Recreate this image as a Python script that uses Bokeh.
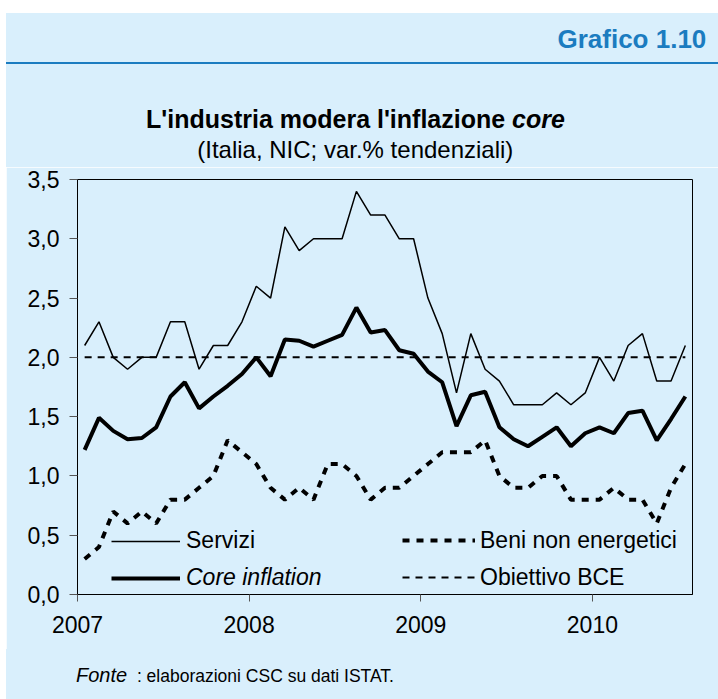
from bokeh.plotting import figure
from bokeh.layouts import column, row
from bokeh.models import (Range1d, FixedTicker, CustomJSTickFormatter,
                          Legend, LegendItem, Div, Spacer)
from bokeh.embed import file_html
from bokeh.resources import INLINE

# ---------------- data (monthly, Jan 2007 - Jul 2010) ----------------
servizi = [2.1, 2.3, 2.0, 1.9, 2.0, 2.0, 2.3, 2.3, 1.9, 2.1, 2.1, 2.3,
           2.6, 2.5, 3.1, 2.9, 3.0, 3.0, 3.0, 3.4, 3.2, 3.2, 3.0, 3.0,
           2.5, 2.2, 1.7, 2.2, 1.9, 1.8, 1.6, 1.6, 1.6, 1.7, 1.6, 1.7,
           2.0, 1.8, 2.1, 2.2, 1.8, 1.8, 2.1]
core_inflation = [1.22, 1.49, 1.38, 1.31, 1.32, 1.41, 1.67, 1.79, 1.57, 1.67, 1.76, 1.86,
                  2.00, 1.84, 2.15, 2.14, 2.09, 2.14, 2.19, 2.42, 2.21, 2.23, 2.06, 2.03,
                  1.88, 1.79, 1.42, 1.68, 1.71, 1.41, 1.31, 1.25, 1.33, 1.41, 1.25, 1.36,
                  1.41, 1.36, 1.53, 1.55, 1.30, 1.48, 1.67]
beni_non_energetici = [0.3, 0.4, 0.7, 0.6, 0.7, 0.6, 0.8, 0.8, 0.9, 1.0, 1.3, 1.2,
                       1.1, 0.9, 0.8, 0.9, 0.8, 1.1, 1.1, 1.0, 0.8, 0.9, 0.9, 1.0,
                       1.1, 1.2, 1.2, 1.2, 1.3, 1.0, 0.9, 0.9, 1.0, 1.0, 0.8, 0.8,
                       0.8, 0.9, 0.8, 0.8, 0.6, 0.9, 1.1]
obiettivo_bce_value = 2.0
obiettivo_bce = [obiettivo_bce_value] * len(servizi)

year_labels = ["2007", "2008", "2009", "2010"]
year_ticks = [0, 12, 24, 36]          # January boundaries (month index)
y_ticks = [0.0, 0.5, 1.0, 1.5, 2.0, 2.5, 3.0, 3.5]

n = len(servizi)
x = [i + 0.5 for i in range(n)]       # month centres

# ---------------- layout constants (page pixels, page origin = 0,0) ----------------
FONT = "Liberation Sans"
BG = "#d9effc"
BLUE = "#1b7cc0"
X0 = 6                            # panel starts at page x 6
W = 718 - X0
TOP_H = 167                       # header block: page y 0 .. 167
MAIN_TOP_B, FRAME_H, MAIN_BOT_B = 12, 415, 55
MAIN_H = MAIN_TOP_B + FRAME_H + MAIN_BOT_B
FOOT_H = 699 - TOP_H - MAIN_H
FL, FR = 71, 26
FRAME_BOTTOM_PAGE = TOP_H + MAIN_TOP_B + FRAME_H


def sx(page_x):
    return page_x - X0 - FL


def sy(page_y):
    return FRAME_BOTTOM_PAGE - page_y


def top_for(baseline_page, size, block_top_page):
    # Liberation Sans with line-height == font-size: baseline ~0.8465 em below top
    return baseline_page - 0.8465 * size - block_top_page


# ---------------- header (HTML text) ----------------
header_html = f"""
<div style="position:relative;width:{W}px;height:{TOP_H}px;font-family:'{FONT}';color:black;">
  <div style="position:absolute;left:0;top:0;width:{W}px;height:13px;background:white;"></div>
  <div style="position:absolute;left:0;top:62.2px;width:{W}px;height:2.2px;background:{BLUE};"></div>
  <div style="position:absolute;right:{718 - 706.3:.1f}px;top:{top_for(48.3, 26, 0):.1f}px;
              font-size:26px;line-height:26px;font-weight:bold;color:{BLUE};white-space:nowrap;">Grafico 1.10</div>
  <div style="position:absolute;left:{146 - X0}px;top:{top_for(128.3, 25, 0):.1f}px;
              font-size:25px;line-height:25px;font-weight:bold;white-space:nowrap;">L'industria modera l'inflazione <i>core</i></div>
  <div style="position:absolute;left:0;width:{2 * (355.3 - X0):.1f}px;text-align:center;top:{top_for(158.3, 24, 0):.1f}px;
              font-size:24px;line-height:24px;white-space:nowrap;">(Italia, NIC; var.% tendenziali)</div>
</div>
"""
top = Div(text=header_html, width=W, height=TOP_H,
          styles={"background-color": BG, "margin": "0", "padding": "0"})

# ---------------- main chart ----------------
p = figure(width=W, height=MAIN_H, output_backend="svg", toolbar_location=None,
           x_range=Range1d(0, n), y_range=Range1d(0, 3.5),
           min_border_left=FL, min_border_right=FR,
           min_border_top=MAIN_TOP_B, min_border_bottom=MAIN_BOT_B)
p.background_fill_color = BG
p.border_fill_color = BG
p.outline_line_color = "black"
p.outline_line_width = 1
p.grid.visible = False

for ax in (p.xaxis[0], p.yaxis[0]):
    ax.axis_line_color = "black"
    ax.major_tick_line_color = "#555555"
    ax.minor_tick_line_color = None
    ax.major_tick_in = 0
    ax.major_label_text_font = FONT
    ax.major_label_text_font_size = "23px"
    ax.major_label_text_color = "black"

p.xaxis.ticker = FixedTicker(ticks=year_ticks)
p.xaxis.major_label_overrides = {t: l for t, l in zip(year_ticks, year_labels)}
p.xaxis.major_tick_out = 7
p.xaxis.major_label_standoff = 14

p.yaxis.ticker = FixedTicker(ticks=y_ticks)
p.yaxis.formatter = CustomJSTickFormatter(code="return tick.toFixed(1).replace('.', ',');")
p.yaxis.major_tick_out = 8
p.yaxis.major_label_standoff = 10

r_obj = p.line(x, obiettivo_bce, line_color="black", line_width=2, line_dash="7 6")
r_serv = p.line(x, servizi, line_color="black", line_width=1.5)
r_beni = p.line(x, beni_non_energetici, line_color="black", line_width=4, line_dash="7 7")
r_core = p.line(x, core_inflation, line_color="black", line_width=4)


def make_legend(items, loc, glyph_w, standoff, style="normal"):
    lg = Legend(items=items, location=loc, orientation="vertical",
                glyph_width=glyph_w, glyph_height=30, label_height=30,
                label_standoff=standoff, spacing=7, padding=0, margin=0,
                border_line_color=None, background_fill_alpha=0,
                label_text_font=FONT, label_text_font_size="23px",
                label_text_font_style=style, label_text_color="black")
    p.add_layout(lg, "center")


make_legend([LegendItem(label="Servizi", renderers=[r_serv])],
            (sx(111), sy(555.7)), 69, 6)
make_legend([LegendItem(label="Core inflation", renderers=[r_core])],
            (sx(111), sy(592.7)), 69, 6, "italic")
make_legend([LegendItem(label="Beni non energetici", renderers=[r_beni]),
             LegendItem(label="Obiettivo BCE", renderers=[r_obj])],
            (sx(402), sy(592)), 73, 5)

# ---------------- footer (HTML text) ----------------
foot_top = TOP_H + MAIN_H
footer_html = f"""
<div style="position:relative;width:{W}px;height:{FOOT_H}px;font-family:'{FONT}';color:black;">
  <div style="position:absolute;left:{76 - X0}px;top:{top_for(681.7, 20, foot_top):.1f}px;
              font-size:20px;line-height:20px;white-space:nowrap;"><i>Fonte</i><span style="font-size:17.5px;">&nbsp;&nbsp;: elaborazioni CSC su dati ISTAT.</span></div>
</div>
"""
foot = Div(text=footer_html, width=W, height=FOOT_H,
           styles={"background-color": BG, "margin": "0", "padding": "0"})

layout = row(Spacer(width=X0, height=699), column(top, p, foot, spacing=0), spacing=0)
open("out.html", "w").write(file_html(layout, INLINE))
